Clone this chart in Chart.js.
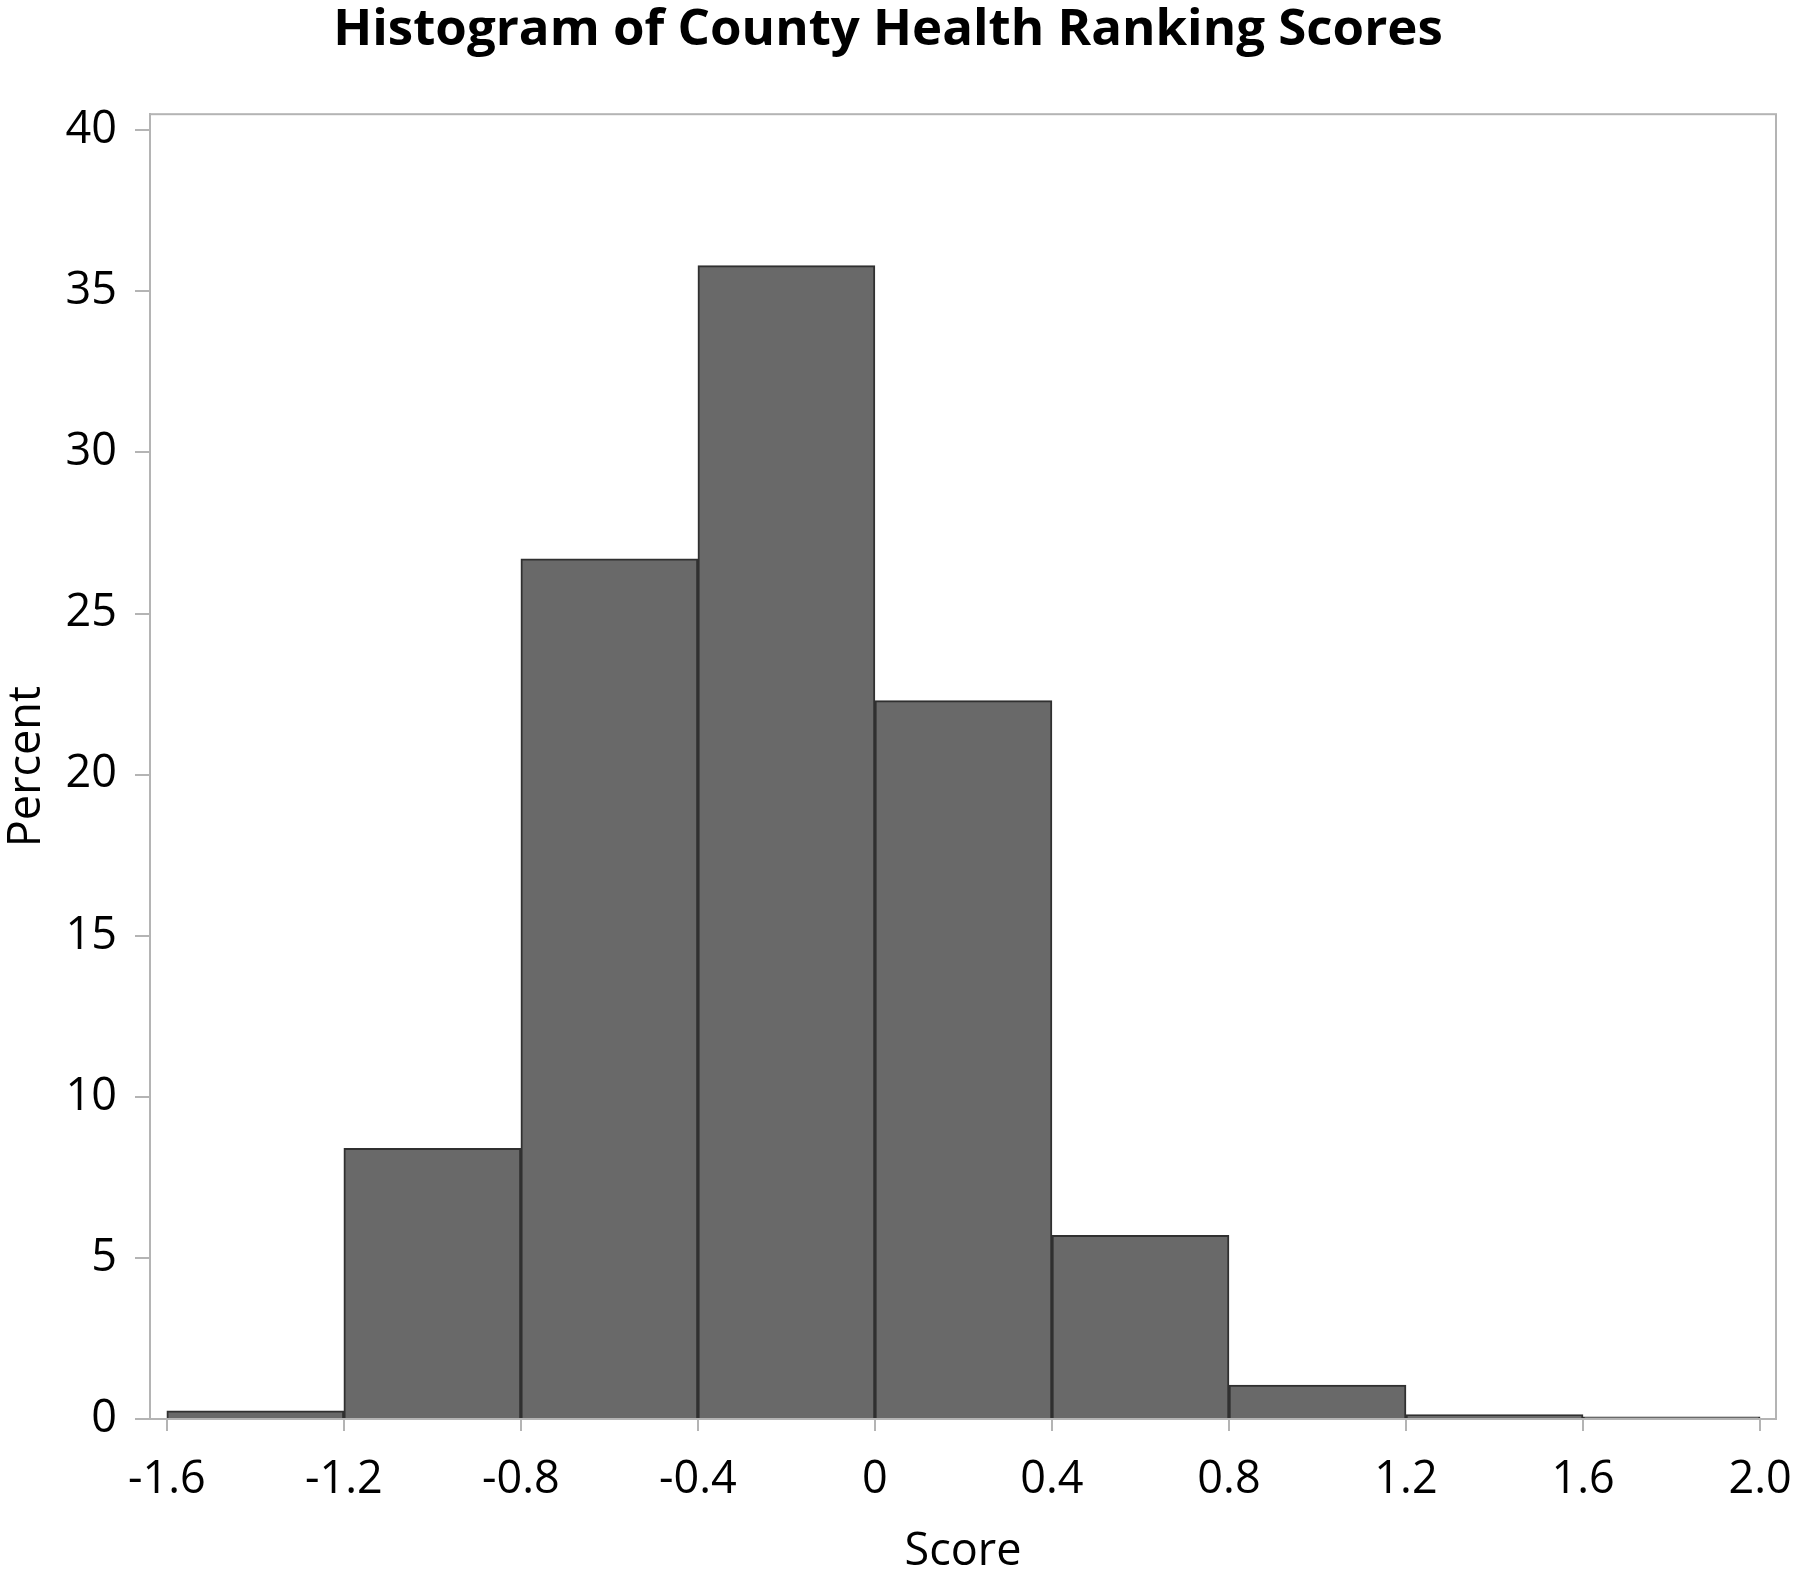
<!DOCTYPE html>
<html>
<head>
<meta charset="utf-8">
<script src="https://cdn.jsdelivr.net/npm/chart.js@4/dist/chart.umd.min.js"></script>
<style>
  html, body { margin: 0; padding: 0; background: #fff; }
  #wrap { width: 1800px; height: 1579px; }
</style>
</head>
<body>
<div id="wrap"><canvas id="chart-area" width="1800" height="1579"></canvas></div>
<script>
// histogram bins (left edges), bin width and percent per bin
var binStarts = [-1.6, -1.2, -0.8, -0.4, 0, 0.4, 0.8, 1.2, 1.6];
var binWidth = 0.4;
var percents = [0.25, 8.4, 26.7, 35.8, 22.3, 5.7, 1.05, 0.14, 0.07];

var xTickValues = [-1.6, -1.2, -0.8, -0.4, 0, 0.4, 0.8, 1.2, 1.6, 2.0];
var xTickLabels = ['-1.6', '-1.2', '-0.8', '-0.4', '0', '0.4', '0.8', '1.2', '1.6', '2.0'];
var yTickValues = [0, 5, 10, 15, 20, 25, 30, 35, 40];

var colors = {
  bar: 'rgb(105, 105, 105)',
  barEdge: 'rgb(48, 48, 48)',
  frame: 'rgb(180, 180, 180)',
  text: '#000'
};

var FONT = "'Open Sans', 'Noto Sans', sans-serif";

var points = binStarts.map(function (s, i) {
  return { x: s + binWidth / 2, y: percents[i] };
});

// gray frame around the plot area (top and right sides; left/bottom are the axes)
var framePlugin = {
  id: 'frame',
  beforeDatasetsDraw: function (chart) {
    var a = chart.chartArea, ctx = chart.ctx;
    ctx.save();
    ctx.strokeStyle = colors.frame;
    ctx.lineWidth = 2;
    ctx.strokeRect(a.left, a.top, a.right - a.left, a.bottom - a.top);
    ctx.restore();
  }
};

var config = {
  type: 'bar',
  data: {
    datasets: [{
      label: 'Percent',
      data: points,
      backgroundColor: colors.bar,
      borderColor: colors.barEdge,
      borderWidth: 2,
      barPercentage: 1,
      categoryPercentage: 1
    }]
  },
  options: {
    responsive: false,
    animation: false,
    layout: { padding: { left: 0, right: 24, top: 0, bottom: 0 } },
    plugins: {
      legend: { display: false },
      tooltip: { enabled: false },
      title: {
        display: true,
        text: 'Histogram of County Health Ranking Scores',
        color: colors.text,
        font: { family: FONT, size: 51, weight: 'bold', lineHeight: 1.2 },
        padding: { top: 0, bottom: 53 }
      }
    },
    scales: {
      x: {
        type: 'linear',
        offset: false,
        min: -1.638,
        max: 2.036,
        afterBuildTicks: function (scale) {
          scale.ticks = xTickValues.map(function (v) { return { value: v }; });
        },
        afterFit: function (scale) {
          scale.height = 160;
          scale.paddingLeft = 0;
          scale.paddingRight = 0;
        },
        ticks: {
          color: colors.text,
          font: { family: FONT, size: 45 },
          padding: 22,
          maxRotation: 0,
          autoSkip: false,
          callback: function (v) {
            var i = xTickValues.indexOf(Math.round(v * 10) / 10);
            return i >= 0 ? xTickLabels[i] : '';
          }
        },
        grid: {
          display: true,
          offset: false,
          drawOnChartArea: false,
          drawTicks: true,
          tickLength: 12,
          color: colors.frame,
          lineWidth: 2
        },
        border: { display: true, color: colors.frame, width: 2 },
        title: {
          display: true,
          text: 'Score',
          color: colors.text,
          font: { family: FONT, size: 45 },
          padding: 0
        }
      },
      y: {
        min: 0,
        max: 40.5,
        afterBuildTicks: function (scale) {
          scale.ticks = yTickValues.map(function (v) { return { value: v }; });
        },
        afterFit: function (scale) { scale.width = 150; },
        ticks: {
          color: colors.text,
          font: { family: FONT, size: 45 },
          padding: 18,
          autoSkip: false
        },
        grid: {
          display: true,
          drawOnChartArea: false,
          drawTicks: true,
          tickLength: 15,
          color: colors.frame,
          lineWidth: 2
        },
        border: { display: true, color: colors.frame, width: 2 },
        title: {
          display: true,
          text: 'Percent',
          color: colors.text,
          font: { family: FONT, size: 45 },
          padding: 0
        }
      }
    }
  },
  plugins: [framePlugin]
};

window.onload = function () {
  var ctx = document.getElementById('chart-area').getContext('2d');
  window.myHist = new Chart(ctx, config);
};
</script>
</body>
</html>
